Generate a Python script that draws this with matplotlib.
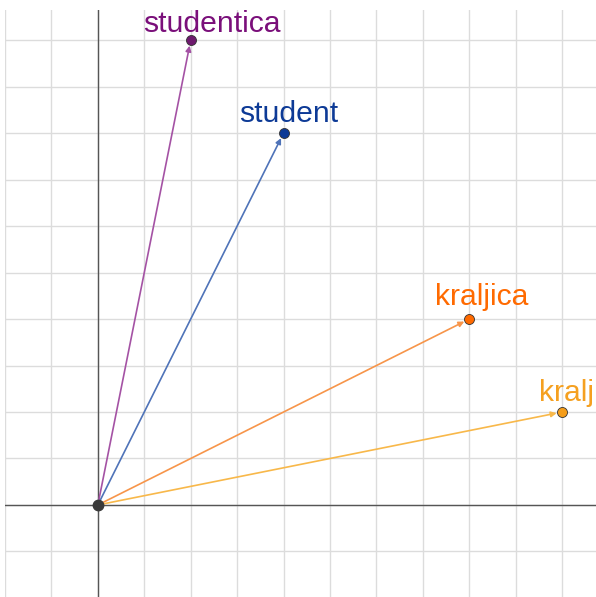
import matplotlib.pyplot as plt
import numpy as np

# word vectors (x, y) in grid units
words = ['studentica', 'student', 'kraljica', 'kralj']
vec_x = [2, 4, 8, 10]
vec_y = [10, 8, 4, 2]
text_colors = ['#7a0f7a', '#0d3a96', '#ff6a00', '#f5a020']
line_colors = ['#a452a4', '#4f73b8', '#f7954a', '#f8b84a']
dot_colors = ['#6e1a6e', '#0d3a96', '#ff6a00', '#f59d1a']

# label placement relative to the point, in pixels
label_dx = [21, 5, 12, 4]
label_dy = [8, 11, 14, 11]

plt.rcParams['font.family'] = ['Liberation Sans', 'DejaVu Sans']

fig = plt.figure(figsize=(5.96, 5.97), dpi=100)
ax = fig.add_axes([5 / 596, 0, 591 / 596, 587 / 597])
ax.set_xlim(-2, 10.73)
ax.set_ylim(-1.98, 10.65)

# grid
for gx in range(-2, 11):
    ax.axvline(gx, color='#dcdcdc', lw=1.0, zorder=0)
for gy in range(-1, 11):
    ax.axhline(gy, color='#dcdcdc', lw=1.0, zorder=0)
ax.axvline(0, color='#555555', lw=1.0, zorder=1)
ax.axhline(0, color='#555555', lw=1.0, zorder=1)

for i, w in enumerate(words):
    x, y = vec_x[i], vec_y[i]
    ax.annotate('', xy=(x, y), xytext=(0, 0),
                arrowprops=dict(arrowstyle='-|>', color=line_colors[i], lw=1.2,
                                mutation_scale=8, shrinkA=0, shrinkB=4),
                zorder=2)
    ax.plot(x, y, 'o', ms=7.2, color=dot_colors[i], mec='#333333', mew=0.6, zorder=3)
    ax.annotate(w, xy=(x, y), xytext=(label_dx[i], label_dy[i]), textcoords='offset pixels',
                ha='center', va='baseline', fontsize=21.7, color=text_colors[i], zorder=4)

ax.plot(0, 0, 'o', ms=7.5, color='#3a3a3a', zorder=4)

ax.set_axis_off()
fig.savefig('out.png', dpi=100, facecolor='white')
